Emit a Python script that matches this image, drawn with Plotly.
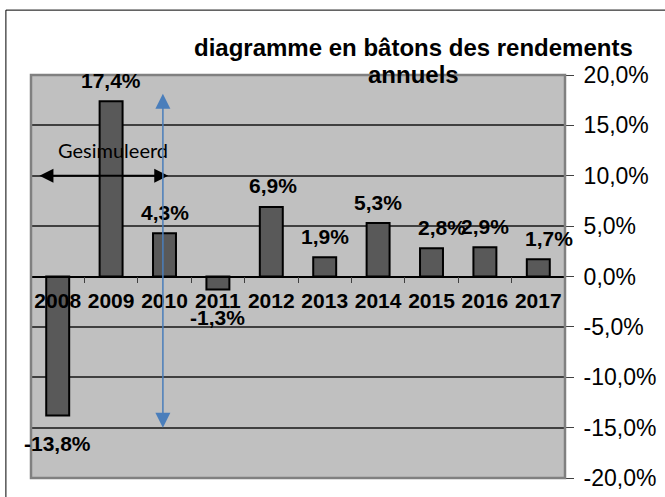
import plotly.graph_objects as go

years = ["2008", "2009", "2010", "2011", "2012", "2013", "2014", "2015", "2016", "2017"]
returns = [-13.8, 17.4, 4.3, -1.3, 6.9, 1.9, 5.3, 2.8, 2.9, 1.7]
title_lines = ["diagramme en bâtons des rendements", "annuels"]
sim_label = "Gesimuleerd"
y_ticks = [-20, -15, -10, -5, 0, 5, 10, 15, 20]
y_ticktext = [f"{t:.1f}%".replace(".", ",") for t in y_ticks]

# label offsets (styling, px)
label_xshift = [0, 0, 0, 0, 2, 0, 0, 10, 0, 11]

FONT = "Arial, Liberation Sans, sans-serif"

fig = go.Figure()
fig.add_trace(go.Bar(
    x=years, y=returns, width=0.43,
    marker=dict(color="#595959", line=dict(color="black", width=2)),
    hoverinfo="skip",
))

for i, v in enumerate(returns):
    fig.add_annotation(
        x=i, y=v, xref="x", yref="y",
        text=f"{v:.1f}%".replace(".", ","),
        showarrow=False, yanchor="middle",
        yshift=21 if v >= 0 else -28, xshift=label_xshift[i],
        font=dict(family=FONT, size=21, color="black", weight=700),
    )

# title (two lines, tighter spacing than plotly's default)
for j, line in enumerate(title_lines):
    fig.add_annotation(x=0.717, y=1 + (28 - 27 * j) / 403, xref="paper", yref="paper",
                       text=line, showarrow=False, xanchor="center", yanchor="middle",
                       font=dict(family=FONT, size=24, color="black", weight=700))

# Simulated-period annotation
fig.add_annotation(x=1.04, y=12.6, xref="x", yref="y", text=sim_label, showarrow=False,
                   font=dict(family="Lato, sans-serif", size=20, color="black"))
fig.add_annotation(x=2.07, y=10, ax=-0.37, ay=10, xref="x", yref="y", axref="x", ayref="y",
                   text="", showarrow=True, arrowside="end+start", arrowhead=2, startarrowhead=2,
                   arrowwidth=2, arrowsize=1.4, startarrowsize=1.4, arrowcolor="black",
                   standoff=0, startstandoff=0)
fig.add_annotation(x=1.97, y=-15, ax=1.97, ay=18.3, xref="x", yref="y", axref="x", ayref="y",
                   text="", showarrow=True, arrowside="end+start", arrowhead=2, startarrowhead=2,
                   arrowwidth=1.5, arrowsize=2, startarrowsize=2, arrowcolor="#4A7EBB",
                   standoff=0, startstandoff=0)

# plot-area border and outer chart border
fig.add_shape(type="rect", xref="paper", yref="paper", x0=0, x1=1, y0=0, y1=1,
              line=dict(color="#808080", width=2.5), layer="above")
fig.add_shape(type="rect", xref="paper", yref="paper", x0=-0.047, x1=1.2, y0=-0.06, y1=1.161,
              line=dict(color="black", width=1), layer="above")

fig.update_layout(
    width=665, height=497,
    margin=dict(l=31, r=100, t=75, b=19, autoexpand=False),
    paper_bgcolor="white", plot_bgcolor="#C0C0C0",
    separators=", ",
    showlegend=False,
    xaxis=dict(type="category", anchor="free", position=0.5,
               showline=True, linecolor="black", linewidth=1.5,
               ticks="outside", tickson="boundaries", ticklen=6, tickcolor="#404040",
               tickangle=0, ticklabelstandoff=6,
               tickfont=dict(family=FONT, size=21, color="black", weight=700),
               showgrid=False, range=[-0.5, 9.5], fixedrange=True),
    yaxis=dict(side="right", range=[-20, 20], tickvals=y_ticks, ticktext=y_ticktext,
               showgrid=True, gridcolor="#404040", gridwidth=1.5, zeroline=False,
               ticks="outside", ticklen=8, tickcolor="#404040", ticklabelstandoff=5,
               tickfont=dict(family=FONT, size=23, color="black"), showline=False),
)

fig.write_html("out.html", config={"displayModeBar": False},
               post_script="document.body.style.margin='0';document.body.style.padding='0';")
